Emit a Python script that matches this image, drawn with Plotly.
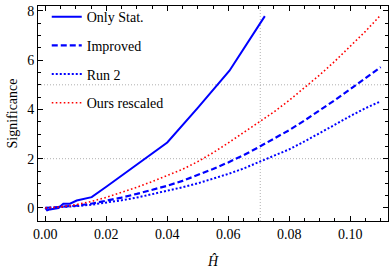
import plotly.graph_objects as go

# ---- data ----
stat_x = [0, 0.0006, 0.0015, 0.003, 0.0043, 0.0059, 0.0081, 0.0103, 0.0152, 0.02, 0.03, 0.04, 0.05, 0.0604, 0.072]
stat_y = [0, -0.1, -0.06, -0.04, 0.0, 0.17, 0.17, 0.3, 0.44, 0.86, 1.76, 2.66, 4.06, 5.57, 7.79]

grid_x = [0, 0.005, 0.01, 0.015, 0.02, 0.025, 0.03, 0.035, 0.04, 0.045, 0.05, 0.055,
          0.06, 0.065, 0.07, 0.075, 0.08, 0.085, 0.09, 0.095, 0.1, 0.105, 0.11]
improved_y = [0, 0.03, 0.09, 0.17, 0.28, 0.42, 0.57, 0.73, 0.9, 1.1, 1.33, 1.58,
              1.85, 2.14, 2.47, 2.82, 3.16, 3.55, 3.96, 4.38, 4.82, 5.27, 5.72]
run2_y = [0, 0.02, 0.07, 0.13, 0.21, 0.31, 0.42, 0.55, 0.69, 0.84, 1.0, 1.18,
          1.38, 1.6, 1.86, 2.1, 2.38, 2.7, 3.03, 3.38, 3.73, 4.05, 4.33]
ours_y = [0, 0.04, 0.13, 0.26, 0.43, 0.63, 0.84, 1.07, 1.31, 1.57, 1.88, 2.24,
          2.64, 3.05, 3.47, 3.9, 4.37, 4.87, 5.4, 5.96, 6.55, 7.17, 7.83]

ref_y = [2, 5]
ref_x = [0.0705]

x_ticks = [0.0, 0.02, 0.04, 0.06, 0.08, 0.10]
x_labels = ["0.00", "0.02", "0.04", "0.06", "0.08", "0.10"]
y_ticks = [0, 2, 4, 6, 8]

FONT = "Liberation Serif"
BLUE = "#0000ff"
RED = "#ff0000"

fig = go.Figure()
fig.add_trace(go.Scatter(x=stat_x, y=stat_y, mode="lines", name="Only Stat.", legendgroup="a",
                         line=dict(color=BLUE, width=2)))
fig.add_trace(go.Scatter(x=grid_x, y=improved_y, mode="lines", name="Improved", legendgroup="b",
                         line=dict(color=BLUE, width=2.2, dash="6px,3px")))
fig.add_trace(go.Scatter(x=grid_x, y=run2_y, mode="lines", name="Run 2", legendgroup="c",
                         line=dict(color=BLUE, width=2, dash="2px,2px")))
fig.add_trace(go.Scatter(x=grid_x, y=ours_y, mode="lines", name="Ours rescaled", legendgroup="d",
                         line=dict(color=RED, width=1.6, dash="1.6px,2.4px")))

for yv in ref_y:
    fig.add_shape(type="line", xref="paper", x0=0, x1=1, yref="y", y0=yv, y1=yv,
                  line=dict(color="#b0b0b0", width=1, dash="1px,2px"), layer="below")
for xv in ref_x:
    fig.add_shape(type="line", yref="paper", y0=0, y1=1, xref="x", x0=xv, x1=xv,
                  line=dict(color="#b0b0b0", width=1, dash="1px,2px"), layer="below")

axis_common = dict(showgrid=False, zeroline=False, showline=True, linecolor="black", linewidth=1,
                   mirror="allticks", ticks="inside", ticklen=5, tickcolor="black", tickwidth=1,
                   automargin=False,
                   tickfont=dict(family=FONT, size=14, color="black"))

fig.update_xaxes(range=[-0.0024, 0.1124], tickvals=x_ticks, ticktext=x_labels,
                 minor=dict(dtick=0.005, tick0=0, ticks="inside", ticklen=3, tickcolor="black", showgrid=False),
                 title=dict(text="<i>Ĥ</i>", font=dict(family=FONT, size=14, color="black"), standoff=15),
                 **axis_common)
fig.update_yaxes(range=[-0.53, 8.2], tickvals=y_ticks,
                 minor=dict(dtick=0.5, tick0=0, ticks="inside", ticklen=3, tickcolor="black", showgrid=False),
                 title=dict(text="Significance", font=dict(family=FONT, size=14, color="black"), standoff=6),
                 **axis_common)

fig.update_layout(
    width=390, height=272,
    margin=dict(l=38, r=2, t=5, b=51),
    paper_bgcolor="white", plot_bgcolor="white",
    font=dict(family=FONT, size=14, color="black"),
    legend=dict(x=0.025, y=1.018, xanchor="left", yanchor="top", bgcolor="rgba(0,0,0,0)",
                borderwidth=0, tracegroupgap=7.5, font=dict(family=FONT, size=14)),
)

fig.write_html("out.html", config={"displayModeBar": False},
               post_script="document.body.style.margin='0';document.body.style.overflow='hidden';")
